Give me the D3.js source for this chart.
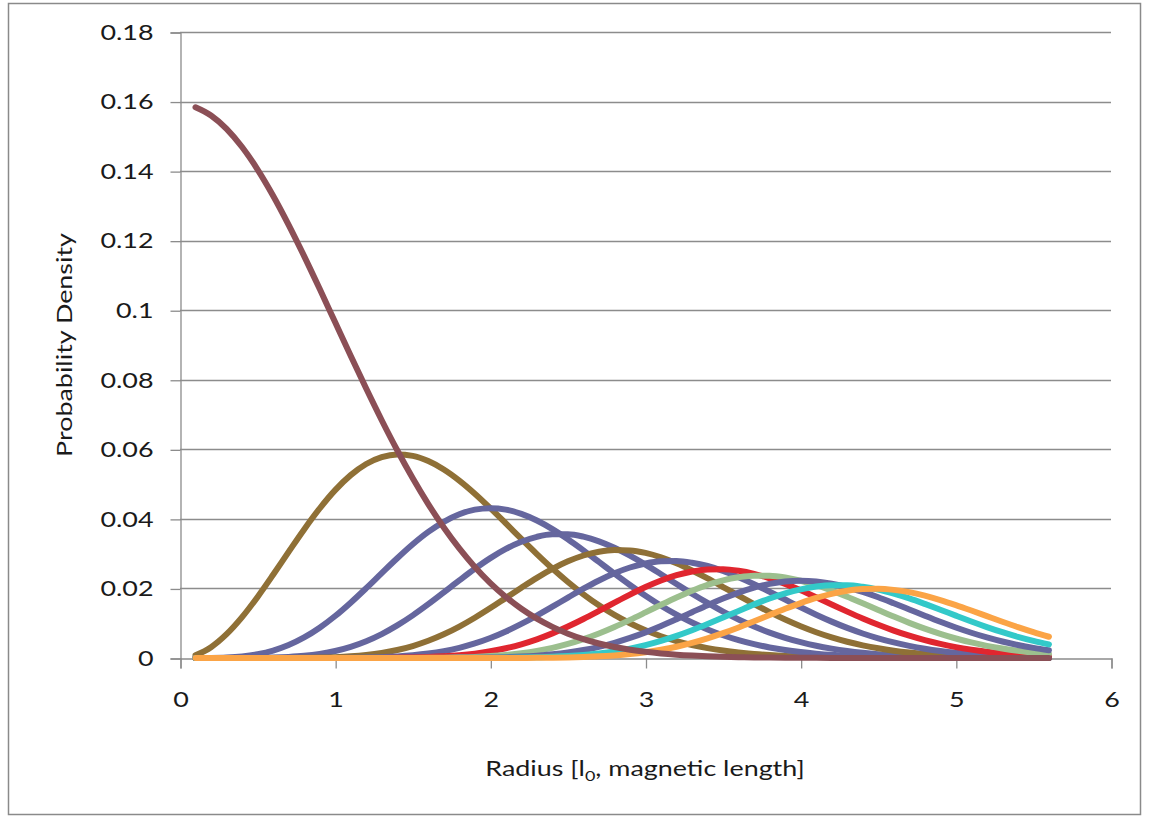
<!DOCTYPE html>
<html>
<head>
<meta charset="utf-8">
<script src="https://cdn.jsdelivr.net/npm/d3@7/dist/d3.min.js"></script>
<style>
  html, body { margin: 0; padding: 0; background: #ffffff; }
  svg { display: block; }
  text { font-family: Lato, "Open Sans", "Liberation Sans", sans-serif; fill: #1a1a1a; }
</style>
</head>
<body>
<svg id="chart" width="1149" height="819"></svg>
<script>
// Radial probability density of the lowest Landau level states, m = 0 … 10
const radius = [0.1,0.2,0.3,0.4,0.5,0.6,0.7,0.8,0.9,1.0,1.1,1.2,1.3,1.4,1.5,1.6,1.7,1.8,1.9,2.0,
  2.1,2.2,2.3,2.4,2.5,2.6,2.7,2.8,2.9,3.0,3.1,3.2,3.3,3.4,3.5,3.6,3.7,3.8,3.9,4.0,
  4.1,4.2,4.3,4.4,4.5,4.6,4.7,4.8,4.9,5.0,5.1,5.2,5.3,5.4,5.5,5.6];

const m0 = [0.15836,0.15600,0.15215,0.14692,0.14045,0.13294,0.12457,0.11557,0.10615,0.09653,
  0.08691,0.07747,0.06837,0.05973,0.05167,0.04425,0.03752,0.03150,0.02618,0.02154,
  0.01755,0.01415,0.01130,0.00894,0.00699,0.00542,0.00416,0.00316,0.00238,0.00177,
  0.00130,0.00095,0.00069,0.00049,0.00035,0.00024,0.00017,0.00012,0.00008,0.00005,
  0.00004,0.00002,0.00002,0.00001,0.00001,0,0,0,0,0,0,0,0,0,0,0];
const m1 = [0.00079,0.00312,0.00685,0.01175,0.01756,0.02393,0.03052,0.03698,0.04299,0.04827,
  0.05258,0.05578,0.05777,0.05854,0.05813,0.05664,0.05422,0.05103,0.04726,0.04308,
  0.03870,0.03424,0.02989,0.02573,0.02185,0.01832,0.01515,0.01238,0.00999,0.00796,
  0.00626,0.00487,0.00374,0.00284,0.00213,0.00158,0.00116,0.00084,0.00060,0.00043,
  0.00030,0.00021,0.00014,0.00010,0.00006,0.00004,0.00003,0.00002,0.00001,0.00001,
  0,0,0,0,0,0];
const m2 = [0,0.00003,0.00015,0.00047,0.00110,0.00215,0.00374,0.00592,0.00871,0.01207,
  0.01591,0.02008,0.02441,0.02868,0.03270,0.03625,0.03917,0.04133,0.04265,0.04308,
  0.04267,0.04143,0.03953,0.03706,0.03415,0.03095,0.02762,0.02426,0.02100,0.01790,
  0.01504,0.01247,0.01019,0.00822,0.00653,0.00512,0.00397,0.00304,0.00229,0.00171,
  0.00126,0.00091,0.00066,0.00047,0.00033,0.00023,0.00016,0.00010,0.00007,0.00005,
  0.00003,0.00002,0.00001,0.00001,0,0];
const m3 = [0,0,0,0.00001,0.00005,0.00013,0.00031,0.00063,0.00118,0.00201,
  0.00321,0.00482,0.00688,0.00937,0.01226,0.01547,0.01887,0.02232,0.02566,0.02872,
  0.03136,0.03342,0.03485,0.03557,0.03557,0.03488,0.03355,0.03170,0.02943,0.02685,
  0.02409,0.02127,0.01849,0.01584,0.01333,0.01106,0.00906,0.00731,0.00581,0.00456,
  0.00352,0.00269,0.00202,0.00150,0.00110,0.00080,0.00057,0.00040,0.00028,0.00019,
  0.00013,0.00009,0.00006,0.00004,0.00002,0.00002];
const m4 = [0,0,0,0,0,0.00001,0.00002,0.00005,0.00012,0.00025,
  0.00049,0.00087,0.00145,0.00230,0.00345,0.00495,0.00682,0.00904,0.01158,0.01436,
  0.01729,0.02022,0.02305,0.02561,0.02779,0.02947,0.03057,0.03107,0.03094,0.03021,
  0.02894,0.02723,0.02516,0.02288,0.02041,0.01792,0.01550,0.01319,0.01105,0.00912,
  0.00741,0.00593,0.00468,0.00364,0.00279,0.00211,0.00158,0.00116,0.00084,0.00060,
  0.00043,0.00030,0.00021,0.00014,0.00009,0.00006];
const m5 = [0,0,0,0,0,0,0,0,0.00001,0.00003,
  0.00006,0.00013,0.00025,0.00045,0.00078,0.00127,0.00197,0.00293,0.00418,0.00574,
  0.00762,0.00979,0.01219,0.01475,0.01737,0.01992,0.02229,0.02436,0.02602,0.02719,
  0.02781,0.02789,0.02740,0.02645,0.02501,0.02323,0.02123,0.01905,0.01681,0.01458,
  0.01245,0.01046,0.00865,0.00705,0.00566,0.00447,0.00348,0.00267,0.00202,0.00151,
  0.00111,0.00081,0.00058,0.00041,0.00028,0.00019];
const m6 = [0,0,0,0,0,0,0,0,0,0,
  0.00001,0.00002,0.00003,0.00007,0.00015,0.00027,0.00047,0.00079,0.00126,0.00192,
  0.00280,0.00395,0.00537,0.00708,0.00905,0.01122,0.01354,0.01592,0.01824,0.02039,
  0.02227,0.02380,0.02487,0.02548,0.02553,0.02509,0.02421,0.02292,0.02131,0.01945,
  0.01744,0.01537,0.01333,0.01137,0.00955,0.00788,0.00641,0.00513,0.00405,0.00314,
  0.00241,0.00181,0.00135,0.00099,0.00071,0.00051];
const m7 = [0,0,0,0,0,0,0,0,0,0,
  0,0,0,0.00001,0.00002,0.00005,0.00010,0.00018,0.00032,0.00055,
  0.00088,0.00137,0.00203,0.00291,0.00404,0.00542,0.00705,0.00891,0.01096,0.01311,
  0.01529,0.01740,0.01935,0.02104,0.02234,0.02322,0.02368,0.02364,0.02315,0.02222,
  0.02094,0.01937,0.01761,0.01572,0.01381,0.01191,0.01011,0.00844,0.00694,0.00561,
  0.00447,0.00350,0.00271,0.00206,0.00154,0.00114];
const m8 = [0,0,0,0,0,0,0,0,0,0,
  0,0,0,0,0,0.00001,0.00002,0.00004,0.00007,0.00014,
  0.00024,0.00041,0.00067,0.00105,0.00158,0.00229,0.00321,0.00437,0.00576,0.00737,
  0.00918,0.01114,0.01317,0.01520,0.01710,0.01881,0.02026,0.02133,0.02201,0.02222,
  0.02200,0.02135,0.02035,0.01902,0.01748,0.01575,0.01396,0.01216,0.01041,0.00877,
  0.00726,0.00592,0.00475,0.00375,0.00292,0.00224];
const m9 = [0,0,0,0,0,0,0,0,0,0,
  0,0,0,0,0,0,0,0.00001,0.00001,0.00003,
  0.00006,0.00011,0.00020,0.00034,0.00055,0.00086,0.00130,0.00190,0.00269,0.00369,
  0.00490,0.00634,0.00797,0.00976,0.01164,0.01354,0.01541,0.01711,0.01859,0.01975,
  0.02054,0.02092,0.02090,0.02046,0.01967,0.01852,0.01714,0.01556,0.01389,0.01218,
  0.01050,0.00890,0.00742,0.00608,0.00491,0.00390];
const m10 = [0,0,0,0,0,0,0,0,0,0,
  0,0,0,0,0,0,0,0,0,0.00001,
  0.00001,0.00003,0.00005,0.00010,0.00017,0.00029,0.00047,0.00075,0.00113,0.00166,
  0.00236,0.00324,0.00434,0.00564,0.00713,0.00878,0.01055,0.01236,0.01414,0.01580,
  0.01727,0.01845,0.01932,0.01981,0.01991,0.01959,0.01893,0.01793,0.01667,0.01522,
  0.01365,0.01203,0.01041,0.00886,0.00742,0.00611];

const xTicks = [0, 1, 2, 3, 4, 5, 6];
const yTicks = [0, 0.02, 0.04, 0.06, 0.08, 0.1, 0.12, 0.14, 0.16, 0.18];
const yTickLabels = ["0", "0.02", "0.04", "0.06", "0.08", "0.1", "0.12", "0.14", "0.16", "0.18"];

const series = [
  { name: "m = 1",  values: m1,  color: "#8f7036" },
  { name: "m = 2",  values: m2,  color: "#65669e" },
  { name: "m = 3",  values: m3,  color: "#65669e" },
  { name: "m = 4",  values: m4,  color: "#8f7036" },
  { name: "m = 5",  values: m5,  color: "#65669e" },
  { name: "m = 6",  values: m6,  color: "#e0262f" },
  { name: "m = 7",  values: m7,  color: "#9cbf8e" },
  { name: "m = 8",  values: m8,  color: "#65669e" },
  { name: "m = 9",  values: m9,  color: "#33c9c9" },
  { name: "m = 10", values: m10, color: "#fba446" },
  { name: "m = 0",  values: m0,  color: "#8b4f56" }
];

const svg = d3.select("#chart");
const TEXT_STRETCH = 1.28; // wide lettering of the axis labels

// widen a text element horizontally while keeping its anchor in place
function stretch(sel) {
  sel.each(function () {
    const len = this.getComputedTextLength();
    d3.select(this)
      .attr("textLength", len * TEXT_STRETCH)
      .attr("lengthAdjust", "spacingAndGlyphs");
  });
}

// outer chart frame
svg.append("rect")
  .attr("x", 8.5).attr("y", 3.5)
  .attr("width", 1132).attr("height", 811)
  .attr("fill", "#ffffff")
  .attr("stroke", "#8a8a8a").attr("stroke-width", 1.5);

const plot = { left: 180, right: 1111, top: 32, bottom: 658 };

const x = d3.scaleLinear().domain([0, 6]).range([plot.left, plot.right]);
const y = d3.scaleLinear().domain([0, 0.18]).range([plot.bottom, plot.top]);

// horizontal gridlines
svg.append("g")
  .selectAll("line")
  .data(yTicks.filter(v => v > 0))
  .join("line")
  .attr("x1", plot.left).attr("x2", plot.right)
  .attr("y1", d => Math.round(y(d)) + 0.5).attr("y2", d => Math.round(y(d)) + 0.5)
  .attr("stroke", "#8c8c8c").attr("stroke-width", 1.3);

// y axis
const yAxis = d3.axisLeft(y)
  .tickValues(yTicks)
  .tickSize(10)
  .tickPadding(17)
  .tickFormat((d, i) => yTickLabels[i]);
const gy = svg.append("g")
  .attr("transform", `translate(${plot.left + 0.5},0.5)`)
  .call(yAxis);
gy.select(".domain").attr("stroke", "#8c8c8c").attr("stroke-width", 1.3);
gy.selectAll(".tick line").attr("stroke", "#8c8c8c").attr("stroke-width", 1.3);
gy.selectAll(".tick text")
  .attr("font-size", 21)
  .style("font-family", "Lato, 'Open Sans', sans-serif")
  .attr("fill", "#1a1a1a")
  .call(stretch);

// x axis
const xAxis = d3.axisBottom(x)
  .tickValues(xTicks)
  .tickSize(10)
  .tickPadding(24)
  .tickFormat(d3.format("d"));
const gx = svg.append("g")
  .attr("transform", `translate(0.5,${plot.bottom + 0.5})`)
  .call(xAxis);
gx.select(".domain").attr("stroke", "#8c8c8c").attr("stroke-width", 1.3);
gx.selectAll(".tick line").attr("stroke", "#8c8c8c").attr("stroke-width", 1.3);
gx.selectAll(".tick text")
  .attr("font-size", 21)
  .style("font-family", "Lato, 'Open Sans', sans-serif")
  .attr("fill", "#1a1a1a")
  .call(stretch);

// density curves
const line = d3.line()
  .x((d, i) => x(radius[i]))
  .y(d => y(d))
  .curve(d3.curveMonotoneX);

svg.append("g")
  .selectAll("path")
  .data(series)
  .join("path")
  .attr("d", d => line(d.values))
  .attr("fill", "none")
  .attr("stroke", d => d.color)
  .attr("stroke-width", 6)
  .attr("stroke-linejoin", "round")
  .attr("stroke-linecap", "round");

// axis titles (each piece widened like the tick labels)
const xTitle = svg.append("g").attr("transform", "translate(645,776)");
const xParts = [
  { text: "Radius [l", size: 21, dy: 0 },
  { text: "0", size: 14, dy: 5 },
  { text: ", magnetic length]", size: 21, dy: 0 }
];
const partEls = xTitle.selectAll("text")
  .data(xParts)
  .join("text")
  .attr("font-size", d => d.size)
  .attr("y", d => d.dy)
  .text(d => d.text);
const widths = [];
partEls.each(function () { widths.push(this.getComputedTextLength() * TEXT_STRETCH); });
const total = d3.sum(widths);
let cursor = -total / 2;
partEls.each(function (d, i) {
  d3.select(this)
    .attr("x", cursor)
    .attr("textLength", widths[i])
    .attr("lengthAdjust", "spacingAndGlyphs");
  cursor += widths[i];
});

svg.append("text")
  .attr("transform", "translate(72,345) rotate(-90)")
  .attr("text-anchor", "middle")
  .attr("font-size", 21)
  .text("Probability Density")
  .call(stretch);
</script>
</body>
</html>
